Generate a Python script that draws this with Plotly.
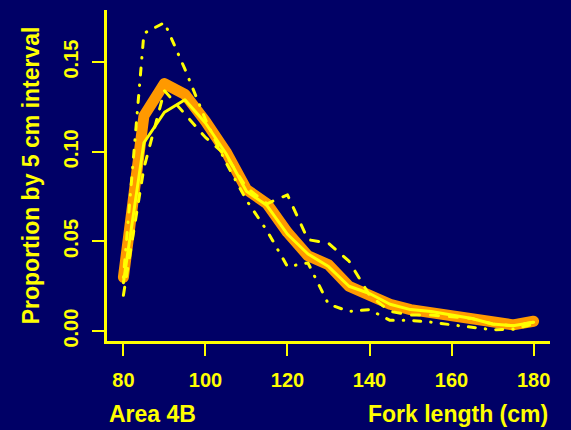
import plotly.graph_objects as go

# Fork length bins (cm) and proportion of fish in each 5 cm interval
fork_length = [80, 85, 90, 95, 100, 105, 110, 115, 120, 125, 130,
               135, 140, 145, 150, 155, 160, 165, 170, 175, 180]

pooled = [0.030, 0.120, 0.138, 0.132, 0.117, 0.100, 0.079, 0.071, 0.055, 0.042, 0.037,
          0.025, 0.020, 0.015, 0.012, 0.0105, 0.0085, 0.006, 0.0045, 0.0035, 0.0055]
sample_1 = [0.027, 0.105, 0.122, 0.129, 0.116, 0.099, 0.078, 0.070, 0.054, 0.043, 0.036,
            0.025, 0.021, 0.015, 0.012, 0.011, 0.009, 0.007, 0.004, 0.003, 0.005]
sample_2 = [0.020, 0.091, 0.134, 0.121, 0.108, 0.098, 0.080, 0.071, 0.076, 0.051, 0.049,
            0.039, 0.020, 0.011, 0.009, 0.009, 0.008, 0.007, 0.004, 0.003, 0.005]
sample_3 = [0.030, 0.166, 0.172, 0.146, 0.118, 0.094, 0.073, 0.056, 0.036, 0.038, 0.015,
            0.011, 0.012, 0.006, 0.006, 0.005, 0.0035, 0.002, 0.0008, 0.001, 0.004]

x_ticks = [80, 100, 120, 140, 160, 180]
y_ticks = [0.00, 0.05, 0.10, 0.15]
y_tick_text = ["0.00", "0.05", "0.10", "0.15"]

BG = "#000066"
YELLOW = "#FFFF00"
ORANGE = "#FF9900"
FONT = "Liberation Sans, Arial, sans-serif"

fig = go.Figure()
fig.add_trace(go.Scatter(x=fork_length, y=pooled, mode="lines",
                         line=dict(color=ORANGE, width=11)))
fig.add_trace(go.Scatter(x=fork_length, y=sample_1, mode="lines",
                         line=dict(color=YELLOW, width=3)))
# dash lengths allow for the round caps applied after plotting
fig.add_trace(go.Scatter(x=fork_length, y=sample_2, mode="lines",
                         line=dict(color=YELLOW, width=3, dash="8px,11px")))
fig.add_trace(go.Scatter(x=fork_length, y=sample_3, mode="lines",
                         line=dict(color=YELLOW, width=3, dash="0.5px,10px,7px,10px")))

title_font = dict(size=23, color=YELLOW, family=FONT)
tick_font = dict(size=20, color=YELLOW, family=FONT)

fig.update_layout(
    width=571, height=430,
    margin=dict(l=107, r=21, t=10, b=89),
    paper_bgcolor=BG, plot_bgcolor=BG,
    showlegend=False,
    font=dict(family=FONT, color=YELLOW),
    xaxis=dict(
        range=[76, 184], tickvals=x_ticks,
        ticktext=["<b>%d</b>" % v for v in x_ticks],
        ticks="outside", ticklen=12,
        tickwidth=2, tickcolor=YELLOW, showgrid=False, zeroline=False,
        showline=True, linecolor=YELLOW, linewidth=3,
        tickfont=tick_font, ticklabelstandoff=7,
    ),
    yaxis=dict(
        range=[-0.0055, 0.179], tickvals=y_ticks,
        ticktext=["<b>%s</b>" % t for t in y_tick_text],
        ticks="outside", ticklen=12, tickwidth=2, tickcolor=YELLOW,
        showgrid=False, zeroline=False, showline=True, linecolor=YELLOW,
        linewidth=3, tickangle=-90,
        tickfont=tick_font, ticklabelstandoff=6,
    ),
    annotations=[
        dict(text="<b>Proportion by 5 cm interval</b>", xref="paper", yref="paper",
             x=-0.172, y=0.5, textangle=-90, showarrow=False,
             xanchor="center", yanchor="middle", font=title_font),
        dict(text="<b>Area 4B</b>", xref="paper", yref="paper", x=0.0, y=-0.22,
             showarrow=False, xanchor="left", yanchor="middle", font=title_font),
        dict(text="<b>Fork length (cm)</b>", xref="paper", yref="paper", x=1.0, y=-0.22,
             showarrow=False, xanchor="right", yanchor="middle", font=title_font),
    ],
)

# round line joins and caps on the curves
round_lines = """
var gd = document.getElementById('{plot_id}');
function roundLines() {
  gd.querySelectorAll('.scatterlayer path.js-line').forEach(function (p) {
    p.style.strokeLinejoin = 'round';
    p.style.strokeLinecap = 'round';
  });
}
roundLines();
setTimeout(roundLines, 0);
"""

fig.write_html("out.html", post_script=round_lines)
